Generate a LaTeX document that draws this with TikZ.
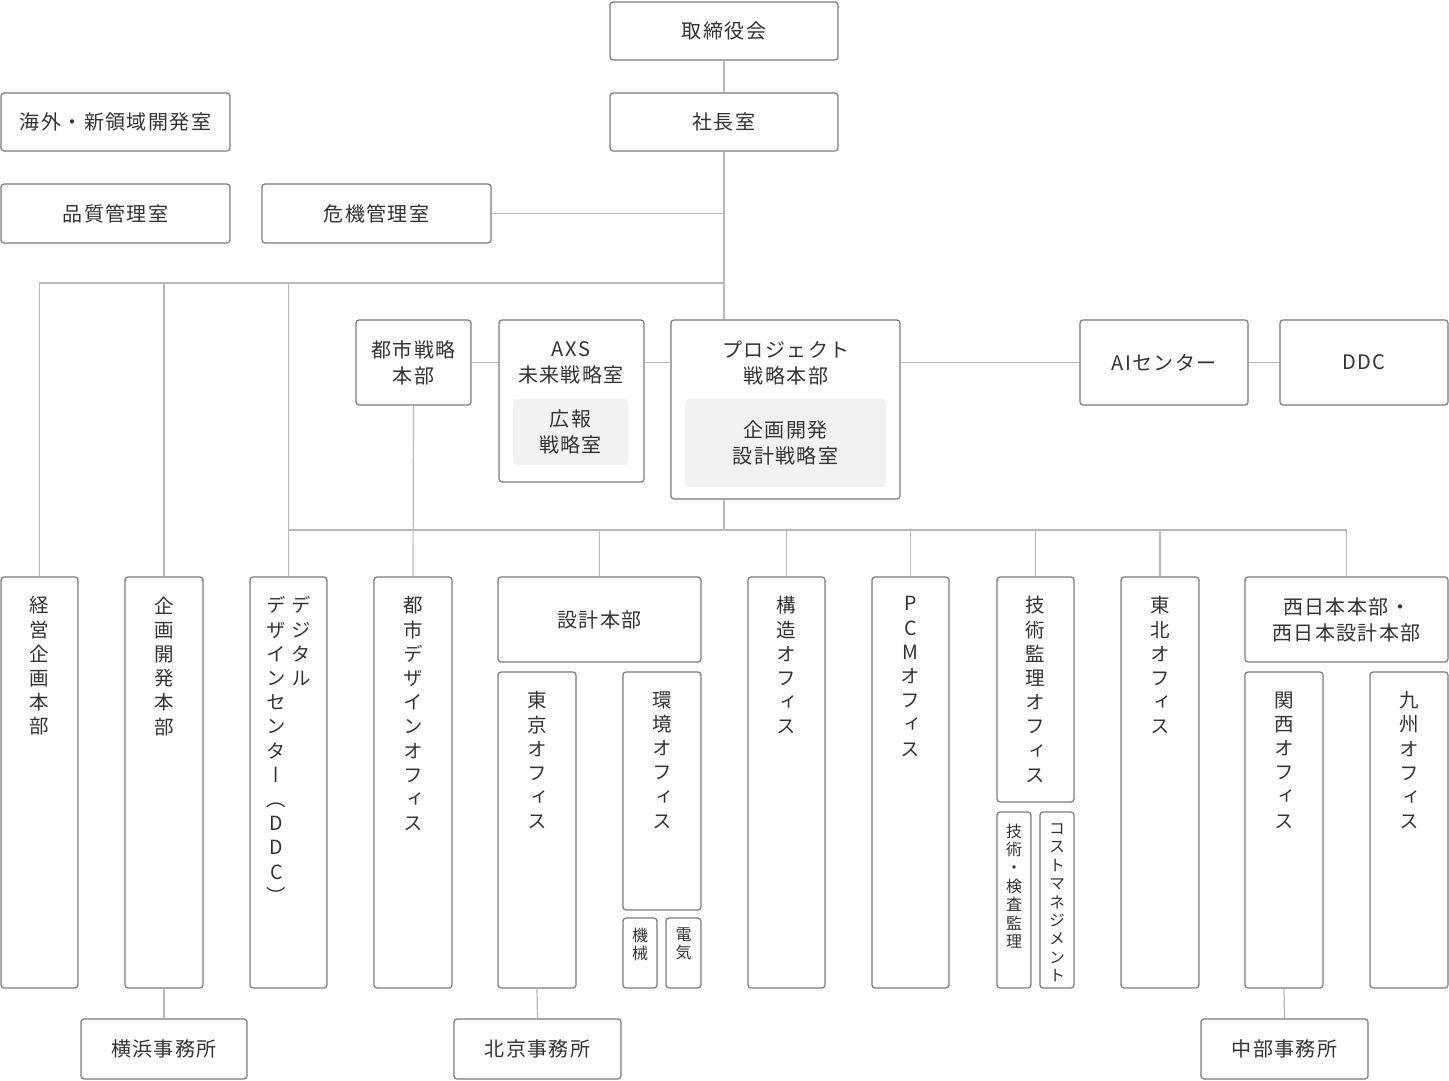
\documentclass[tikz,border=0pt]{standalone}
\usepackage{fontspec}
\setmainfont{Noto Sans CJK JP}[LetterSpace=7]
\newfontfamily\tatefont{Noto Sans CJK JP}[RawFeature=+vert]
\usetikzlibrary{fit}

\definecolor{boxgray}{HTML}{7A7A7A}
\definecolor{linegray}{HTML}{B8B8B8}
\definecolor{fillgray}{HTML}{F2F2F2}
\definecolor{txtgray}{HTML}{333333}

\tikzset{
  box/.style={draw=boxgray, line width=1.2pt, rounded corners=3pt, fill=white, inner sep=0pt},
  inbox/.style={fill=fillgray, rounded corners=4pt, inner sep=0pt},
  link/.style={draw=linegray, line width=1.2pt},
  yoko/.style={text=txtgray, align=center, inner sep=0pt, font=\fontsize{20}{26}\selectfont},
  tate/.style={text=txtgray, align=center, anchor=north, inner sep=0pt, font=\tatefont\fontsize{19.5}{24.2}\selectfont},
  tatesm/.style={tate, font=\tatefont\fontsize{16}{18.4}\selectfont},
}

\begin{document}
\begin{tikzpicture}[x=1pt, y=-1pt]

\useasboundingbox (0,0) rectangle (1449,1080);

% top
\node[box, fit={(610,2) (838,60)}] (torishimari) {};
\node[box, fit={(610,93) (838,151)}] (shacho) {};
\node[box, fit={(1,93) (230,151)}] (kaigai) {};
\node[box, fit={(1,184) (230,243)}] (hinshitsu) {};
\node[box, fit={(262,184) (491,243)}] (kiki) {};
\node[yoko] (torishimariT) at (torishimari) {取締役会};
\node[yoko] (shachoT) at (shacho) {社長室};
\node[yoko] (kaigaiT) at (kaigai) {海外・新領域開発室};
\node[yoko] (hinshitsuT) at (hinshitsu) {品質管理室};
\node[yoko] (kikiT) at (kiki) {危機管理室};

% middle
\node[box, fit={(356,320) (471,405)}] (toshi) {};
\node[box, fit={(499,320) (644,482)}] (axs) {};
\node[inbox, fit={(513,399) (628,465)}] (koho) {};
\node[box, fit={(671,320) (900,499)}] (pj) {};
\node[inbox, fit={(685,399) (886,487)}] (kikakuS) {};
\node[box, fit={(1080,320) (1248,405)}] (ai) {};
\node[box, fit={(1280,320) (1448,405)}] (ddc) {};
\node[yoko] (toshiT) at (toshi) {都市戦略\\本部};
\node[yoko] (axsT) at (571,363) {AXS\\未来戦略室};
\node[yoko] (kohoT) at (koho) {広報\\戦略室};
\node[yoko] (pjT) at (786,363) {プロジェクト\\戦略本部};
\node[yoko] (kikakuST) at (kikakuS) {企画開発\\設計戦略室};
\node[yoko] (aiT) at (ai) {AIセンター};
\node[yoko] (ddcT) at (ddc) {DDC};

% bottom row
\node[box, fit={(1,577) (78,988)}] (keiei) {};
\node[box, fit={(125,577) (203,988)}] (kikaku) {};
\node[box, fit={(250,577) (327,988)}] (digital) {};
\node[box, fit={(374,577) (452,988)}] (toshid) {};
\node[box, fit={(498,577) (701,662)}] (sekkei) {};
\node[box, fit={(498,672) (576,988)}] (tokyo) {};
\node[box, fit={(623,672) (701,910)}] (kankyo) {};
\node[box, fit={(623,918) (657,988)}] (kikai) {};
\node[box, fit={(666,918) (701,988)}] (denki) {};
\node[box, fit={(748,577) (825,988)}] (kozo) {};
\node[box, fit={(872,577) (949,988)}] (pcm) {};
\node[box, fit={(997,577) (1074,802)}] (gijutsu) {};
\node[box, fit={(997,812) (1031,988)}] (kensa) {};
\node[box, fit={(1040,812) (1074,988)}] (cost) {};
\node[box, fit={(1121,577) (1199,988)}] (tohoku) {};
\node[box, fit={(1245,577) (1448,662)}] (nishi) {};
\node[box, fit={(1245,672) (1323,988)}] (kansai) {};
\node[box, fit={(1370,672) (1448,988)}] (kyushu) {};
\node[yoko] (sekkeiT) at (sekkei) {設計本部};
\node[yoko] (nishiT) at (nishi) {西日本本部・\\西日本設計本部};

\node[box, fit={(81,1019) (247,1079)}] (yokohama) {};
\node[box, fit={(454,1019) (621,1079)}] (beijing) {};
\node[box, fit={(1201,1019) (1368,1079)}] (chubu) {};
\node[yoko] (yokohamaT) at (yokohama) {横浜事務所};
\node[yoko] (beijingT) at (beijing) {北京事務所};
\node[yoko] (chubuT) at (chubu) {中部事務所};

% vertical labels
\node[tate] (keieiT) at ([yshift=-20pt]keiei.north) {経\\営\\企\\画\\本\\部};
\node[tate] (kikakuT) at ([yshift=-20pt]kikaku.north) {企\\画\\開\\発\\本\\部};
\node[tate] (digitalR) at ([xshift=13pt, yshift=-20pt]digital.north) {デ\\ジ\\タ\\ル};
\node[tate] (digitalL) at ([xshift=-12pt, yshift=-20pt]digital.north) {デ\\ザ\\イ\\ン\\セ\\ン\\タ\\ー\\（\\D\\D\\C\\）};
\node[tate] (toshidT) at ([yshift=-20pt]toshid.north) {都\\市\\デ\\ザ\\イ\\ン\\オ\\フ\\ィ\\ス};
\node[tate] (tokyoT) at ([yshift=-20pt]tokyo.north) {東\\京\\オ\\フ\\ィ\\ス};
\node[tate] (kankyoT) at ([yshift=-20pt]kankyo.north) {環\\境\\オ\\フ\\ィ\\ス};
\node[tatesm] (kikaiT) at ([yshift=-10pt]kikai.north) {機\\械};
\node[tatesm] (denkiT) at ([yshift=-10pt]denki.north) {電\\気};
\node[tate] (kozoT) at ([yshift=-20pt]kozo.north) {構\\造\\オ\\フ\\ィ\\ス};
\node[tate] (pcmT) at ([yshift=-20pt]pcm.north) {P\\C\\M\\オ\\フ\\ィ\\ス};
\node[tate] (gijutsuT) at ([yshift=-20pt]gijutsu.north) {技\\術\\監\\理\\オ\\フ\\ィ\\ス};
\node[tatesm] (kensaT) at ([yshift=-12pt]kensa.north) {技\\術\\・\\検\\査\\監\\理};
\node[tatesm] (costT) at ([yshift=-12pt]cost.north) {コ\\ス\\ト\\マ\\ネ\\ジ\\メ\\ン\\ト};
\node[tate] (tohokuT) at ([yshift=-20pt]tohoku.north) {東\\北\\オ\\フ\\ィ\\ス};
\node[tate] (kansaiT) at ([yshift=-20pt]kansai.north) {関\\西\\オ\\フ\\ィ\\ス};
\node[tate] (kyushuT) at ([yshift=-20pt]kyushu.north) {九\\州\\オ\\フ\\ィ\\ス};

% lines
\coordinate (bus1) at (724,283);
\coordinate (bus2) at (724,530);

\draw[link] (torishimari) -- (shacho);
\draw[link] (shacho.south) -- (shacho.south |- pj.north);
\draw[link] (kiki.east) -- (kiki.east -| shacho.south);
\draw[link] (keiei.north) |- (bus1);
\draw[link] (kikaku.north) -- (kikaku.north |- bus1);
\draw[link] (digital.north) -- (digital.north |- bus1);
\draw[link] (toshi.east) -- (toshi.east -| axs.west);
\draw[link] (toshi.east -| axs.east) -- (toshi.east -| pj.west);
\draw[link] (ai.west -| pj.east) -- (ai.west);
\draw[link] (ai.east) -- (ddc.west);
\draw[link] (bus2 |- pj.south) -- (bus2);
\draw[link] (digital.north |- bus2) -- (nishi.north |- bus2);
\draw[link] (toshi.south) -- (toshid.north);
\foreach \n in {sekkei, kozo, pcm, gijutsu, tohoku, nishi}
  \draw[link] (\n.north) -- (\n.north |- bus2);
\draw[link] (kikaku.south) -- (yokohama.north);
\draw[link] (tokyo.south) -- (beijing.north);
\draw[link] (kansai.south) -- (chubu.north);

\end{tikzpicture}
\end{document}
